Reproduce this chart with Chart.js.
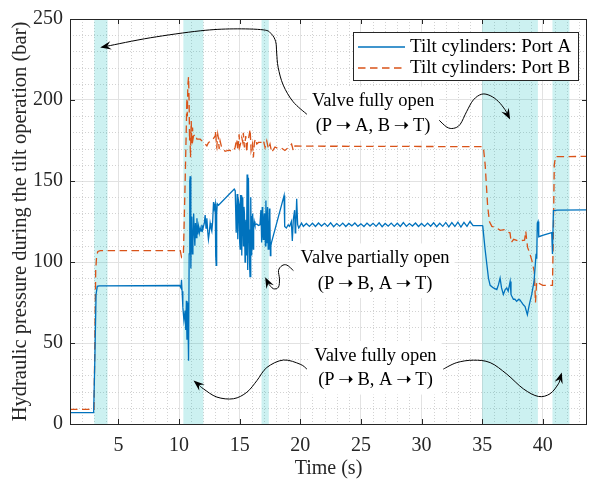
<!DOCTYPE html>
<html><head><meta charset="utf-8">
<script src="https://cdn.jsdelivr.net/npm/chart.js@4/dist/chart.umd.min.js"></script>
<style>html,body{margin:0;padding:0;background:#fff;}#wrap{width:590px;height:479px;}</style>
</head><body><div id="wrap"><canvas id="c" width="590" height="479"></canvas></div>
<script>
// ---------- data ----------
const seriesNames = ['Tilt cylinders: Port A', 'Tilt cylinders: Port B'];
const xTicks = [5, 10, 15, 20, 25, 30, 35, 40];
const yTicks = [0, 50, 100, 150, 200, 250];

const timeA = [
  1, 2.95, 3.05, 3.15, 3.25, 3.4, 10.05, 10.15, 10.2, 10.25,
  10.31, 10.4, 10.5, 10.55, 10.6, 10.65, 10.7, 10.74, 10.78, 10.83,
  10.88, 10.92, 10.97, 11.02, 11.05, 11.1, 11.14, 11.2, 11.25, 11.3,
  11.35, 11.41, 11.47, 11.53, 11.6, 11.67, 11.74, 11.81, 11.88, 11.95,
  12.01, 12.08, 12.15, 12.22, 12.29, 12.36, 12.42, 12.49, 12.56, 12.63,
  12.7, 12.77, 12.84, 12.9, 12.98, 13.02, 13.06, 13.1, 13.15, 13.25,
  14.55, 14.63, 14.71, 14.79, 14.84, 14.9, 14.95, 15.0, 15.04, 15.08,
  15.12, 15.17, 15.21, 15.25, 15.31, 15.35, 15.39, 15.44, 15.48, 15.52,
  15.56, 15.61, 15.66, 15.72, 15.77, 15.81, 15.85, 15.91, 15.95, 15.99,
  16.03, 16.07, 16.11, 16.15, 16.2, 16.26, 16.4, 16.55, 16.67, 16.75,
  16.81, 16.86, 16.9, 16.94, 17.0, 17.03, 17.08, 17.12, 17.16, 17.21,
  17.25, 17.3, 17.35, 17.41, 17.45, 17.49, 17.53, 17.57, 17.62, 18.66,
  18.71, 18.85, 19.0, 19.12, 19.26, 19.34, 19.42, 19.53, 19.58, 19.62,
  19.7, 19.78, 19.87, 19.95, 20.1, 20.25, 20.5, 20.75, 21.0, 21.25,
  21.5, 21.75, 22, 22.25, 22.5, 22.75, 23, 23.25, 23.5, 23.75,
  24, 24.25, 24.5, 24.75, 25, 25.25, 25.5, 25.75, 26, 26.25,
  26.5, 26.75, 27, 27.25, 27.5, 27.75, 28, 28.25, 28.5, 28.75,
  29, 29.25, 29.5, 29.75, 30, 30.25, 30.5, 30.75, 31, 31.25,
  31.5, 31.75, 32, 32.25, 32.5, 32.75, 33, 33.25, 33.5, 33.75,
  34, 34.25, 35.0, 35.05, 35.24, 35.52, 35.66, 35.93, 36.21, 36.35,
  36.48, 36.6, 36.75, 36.9, 37.03, 37.15, 37.31, 37.38, 37.44, 37.58,
  37.7, 37.85, 38.0, 38.13, 38.26, 38.4, 38.54, 38.73, 38.9, 39.09,
  39.28, 39.45, 39.5, 39.55, 39.61, 39.67, 40.05, 40.74, 40.8, 40.88,
  41.2, 43.7
];
const pressureA = [
  7, 7, 40, 80, 85, 85.3, 85.5, 84, 89, 82,
  72, 64, 70, 58, 76, 52, 75, 60, 39, 105,
  150, 153, 96, 128, 122, 105, 112, 130, 119, 110,
  124, 115, 127, 117, 122, 118, 121, 119, 123, 120,
  122, 124, 129, 121, 127, 119, 114, 118, 124, 121,
  119, 125, 137, 133, 136, 104, 98, 130, 136, 135,
  145, 144, 118, 142, 114, 138, 136, 112, 108, 141,
  141, 104, 130, 140, 110, 134, 130, 100, 122, 126,
  104, 154, 95, 152, 120, 100, 91, 140, 112, 104,
  128, 130, 108, 120, 125, 123, 123.5, 122.5, 123, 132,
  112, 134, 118, 114, 127, 130, 124, 110, 138, 112,
  126, 134, 108, 120, 133, 128, 104, 110, 112, 141,
  122, 121, 123, 122, 125, 113, 126, 132, 118, 120,
  139, 123, 121, 122, 124, 122, 123.8, 122, 123.9, 121.9,
  124.1, 122.2, 123.9, 122, 124.2, 121.8, 123.7, 122.1, 124, 121.9,
  123.8, 122.3, 124.1, 122, 123.6, 121.9, 124, 122.2, 123.9, 122,
  124.2, 121.8, 123.8, 122.1, 124, 122, 123.9, 121.9, 124.3, 122,
  123.7, 122.2, 124.1, 121.9, 123.8, 122, 124, 122.1, 124.2, 121.8,
  123.9, 122, 124.4, 121.7, 124.3, 121.9, 124.6, 121.6, 124.5, 122,
  125, 122.4, 122.5, 122.3, 108, 90, 85.6, 84, 83, 86,
  90, 84, 80, 83, 84, 82, 88, 80, 79, 77,
  77, 75.7, 77, 76.5, 75, 73.6, 72.5, 67.5, 74, 80,
  88, 105, 102, 124, 125, 115.6, 116.6, 118.2, 105, 131.8,
  132, 132.2
];

const timeB = [
  1, 2.98, 3.05, 3.12, 3.2, 3.3, 3.5, 10.1, 10.2, 10.3,
  10.36, 10.5, 10.6, 10.64, 10.68, 10.72, 10.78, 10.83, 10.86, 10.89,
  10.94, 10.97, 11.0, 11.05, 11.11, 11.15, 11.19, 11.33, 11.47, 11.74,
  12.02, 12.29, 12.43, 12.7, 12.98, 13.03, 13.07, 13.11, 13.19, 13.25,
  13.3, 13.38, 13.5, 13.8, 14.1, 14.48, 14.62, 14.7, 14.76, 14.84,
  14.95, 15.0, 15.06, 15.17, 15.25, 15.3, 15.39, 15.5, 15.58, 15.65,
  15.72, 15.86, 15.94, 16.05, 16.13, 16.21, 16.3, 16.41, 16.54, 16.82,
  16.95, 17.09, 17.23, 17.37, 17.5, 17.64, 17.91, 18.2, 18.46, 18.73,
  19.01, 19.28, 19.42, 19.56, 20.38, 35.0, 35.1, 35.25, 35.45, 35.6,
  35.8, 36.2, 36.5, 36.8, 37.1, 37.3, 37.4, 37.6, 38.0, 38.5,
  38.6, 38.68, 38.75, 38.9, 39.1, 39.3, 39.4, 39.5, 39.65, 40.0,
  40.8, 40.88, 40.95, 41.05, 43.7
];
const pressureB = [
  9, 9, 50, 95, 104, 106.5, 107, 107, 103, 104,
  106, 150, 185, 201, 190, 209, 214.3, 197, 175, 181,
  164.6, 178, 187, 172.8, 183, 176, 177.8, 178.8, 175.8, 175.8,
  173.8, 171.7, 173.8, 174.8, 177.8, 180.9, 172, 170.7, 178.8, 176,
  169.7, 174.8, 171, 168.3, 169, 168.3, 170.7, 174, 175.8, 168.8,
  178.8, 171, 172.8, 176.8, 174, 179.8, 170.7, 177.8, 167.7, 175,
  175.8, 181.9, 168.8, 172.8, 164.6, 173.8, 176, 172.8, 173.8, 173.8,
  175.2, 170.7, 174.8, 169.8, 172.8, 167.7, 171, 170, 170.2, 168.8,
  170.7, 172.8, 168.8, 171.7, 171.5, 171.2, 171, 160, 135, 125,
  122, 121, 119.5, 120, 118.5, 118, 112, 114, 113, 113.5,
  119, 113, 109, 106, 101, 94, 75, 88, 87, 85.6,
  85.6, 120, 160, 165, 165.2
];

// shaded valve-opening intervals (s)
const bandStart = [3.0, 10.35, 16.8, 35.0, 40.8];
const bandEnd   = [4.1, 12.0, 17.4, 39.6, 42.2];

// annotation texts (two lines each), anchor in data units
const noteLine1 = ['Valve fully open', 'Valve partially open', 'Valve fully open'];
const noteLine2 = ['(P\u2009\u279D\u2009A, B\u2009\u279D\u2009T)', '(P\u2009\u279D\u2009B, A\u2009\u279D\u2009T)', '(P\u2009\u279D\u2009B, A\u2009\u279D\u2009T)'];
const noteX  = [26.0, 26.17, 26.2];
const noteY1 = [199.0, 102.2, 42.0];
const noteY2 = [183.6, 86.4, 26.8];

// curved annotation arrows, control points in data units (t, bar); last point = arrow tip
const arrowPaths = [
  [[20.57,191],[19.41,198.9],[18.59,209.2],[18.17,220.2],[18.05,229],[17.97,236],[17.6,240.9],[16.94,243.3],[14.46,243.9],[11.74,242.7],[7.62,238.4],[3.49,232.4]],
  [[31.39,188],[32.08,183.3],[32.63,182.5],[33.18,184.9],[33.73,193],[34.28,200.1],[34.97,203.6],[35.66,202.7],[36.34,199.1],[36.89,194],[37.31,188]],
  [[19.43,94.7],[18.89,98.1],[18.48,97.7],[18.2,94.7],[18.28,89.6],[18.2,84.5],[17.78,83.5],[17.37,86.6],[17.1,90.6]],
  [[20.54,33.9],[19.99,36.9],[18.61,39.5],[17.24,34.9],[16.42,26.8],[15.59,19.6],[14.49,15.6],[13.12,16.6],[12.01,21.7],[11.19,26.8]],
  [[31.8,33.9],[32.91,37.9],[34.28,39.4],[35.66,37.9],[37.03,30.8],[38.4,21.7],[39.64,17],[40.61,18.7],[41.29,24.8],[41.57,31.8]]
];

// ---------- styling ----------
const SERIF = "'Liberation Serif', 'Times New Roman', 'DejaVu Serif', 'DejaVu Sans', serif";
const BLUE = '#0072BD', ORANGE = '#D95319', AXIS = '#262626';
const DASH = [7.5, 4.5];

const toXY = (ts, vs) => ts.map((t, i) => ({x: t, y: vs[i]}));

const extras = {
  id: 'extras',
  beforeDatasetsDraw(chart) {
    const {ctx, chartArea: a, scales: {x, y}} = chart;
    ctx.save();
    // minor dotted grid
    ctx.strokeStyle = '#d2d2d2'; ctx.lineWidth = 1; ctx.setLineDash([1, 2]);
    ctx.beginPath();
    for (let t = Math.ceil(x.min); t <= x.max; t++) {
      if (t % 5 === 0) continue;
      const px = Math.round(x.getPixelForValue(t)) + 0.5;
      ctx.moveTo(px, a.top); ctx.lineTo(px, a.bottom);
    }
    for (let v = 10; v < y.max; v += 10) {
      if (v % 50 === 0) continue;
      const py = Math.round(y.getPixelForValue(v)) + 0.5;
      ctx.moveTo(a.left, py); ctx.lineTo(a.right, py);
    }
    ctx.stroke();
    ctx.setLineDash([]);
    // shaded bands
    ctx.fillStyle = 'rgba(0,185,185,0.2)';
    bandStart.forEach((s, i) => {
      const x0 = x.getPixelForValue(s), x1 = x.getPixelForValue(bandEnd[i]);
      ctx.fillRect(x0, a.top, x1 - x0, a.bottom - a.top);
    });
    ctx.restore();
  },
  afterDatasetsDraw(chart) {
    const {ctx, scales: {x, y}} = chart;
    ctx.save();
    // arrows
    ctx.strokeStyle = '#000'; ctx.fillStyle = '#000'; ctx.lineWidth = 1;
    arrowPaths.forEach(path => {
      const p = path.map(([t, v]) => [x.getPixelForValue(t), y.getPixelForValue(v)]);
      const n = p.length;
      const last = p[n - 1], prev = p[n - 2];
      const ang = Math.atan2(last[1] - prev[1], last[0] - prev[0]);
      const L = 11, W = 4.2, N = 7;
      const end = [last[0] - N * Math.cos(ang), last[1] - N * Math.sin(ang)];
      const pts = p.slice(0, n - 1).concat([end]);
      ctx.beginPath();
      ctx.moveTo(pts[0][0], pts[0][1]);
      for (let i = 0; i < pts.length - 1; i++) {
        const p0 = pts[i - 1] || pts[i], p1 = pts[i], p2 = pts[i + 1], p3 = pts[i + 2] || p2;
        ctx.bezierCurveTo(p1[0] + (p2[0] - p0[0]) / 6, p1[1] + (p2[1] - p0[1]) / 6,
                          p2[0] - (p3[0] - p1[0]) / 6, p2[1] - (p3[1] - p1[1]) / 6, p2[0], p2[1]);
      }
      ctx.stroke();
      const c = Math.cos(ang), s = Math.sin(ang);
      ctx.beginPath();
      ctx.moveTo(last[0], last[1]);
      ctx.lineTo(last[0] - L * c + W * s, last[1] - L * s - W * c);
      ctx.lineTo(last[0] - N * c, last[1] - N * s);
      ctx.lineTo(last[0] - L * c - W * s, last[1] - L * s + W * c);
      ctx.closePath(); ctx.fill();
    });
    // text boxes
    ctx.font = '18.5px ' + SERIF;
    ctx.textAlign = 'center'; ctx.textBaseline = 'middle';
    noteLine1.forEach((t1, i) => {
      const cx = x.getPixelForValue(noteX[i]);
      const y1 = y.getPixelForValue(noteY1[i]), y2 = y.getPixelForValue(noteY2[i]);
      const w = Math.max(ctx.measureText(t1).width, ctx.measureText(noteLine2[i]).width) + 10;
      ctx.fillStyle = '#fff';
      ctx.fillRect(cx - w / 2, y1 - 15, w, y2 - y1 + 29);
      ctx.fillStyle = '#000';
      ctx.fillText(t1, cx, y1);
      ctx.fillText(noteLine2[i], cx, y2);
    });
    ctx.restore();
  },
  afterDraw(chart) {
    const {ctx, chartArea: a, scales: {x, y}} = chart;
    ctx.save();
    // axes box with inward ticks
    ctx.strokeStyle = AXIS; ctx.lineWidth = 1;
    ctx.strokeRect(Math.round(a.left) + 0.5, Math.round(a.top) + 0.5, Math.round(a.right - a.left) - 1, Math.round(a.bottom - a.top));
    ctx.beginPath();
    xTicks.forEach(t => {
      const px = Math.round(x.getPixelForValue(t)) + 0.5;
      ctx.moveTo(px, a.bottom); ctx.lineTo(px, a.bottom - 5);
      ctx.moveTo(px, a.top); ctx.lineTo(px, a.top + 5);
    });
    yTicks.forEach(v => {
      const py = Math.round(y.getPixelForValue(v)) + 0.5;
      ctx.moveTo(a.left, py); ctx.lineTo(a.left + 5, py);
      ctx.moveTo(a.right, py); ctx.lineTo(a.right - 5, py);
    });
    ctx.stroke();
    // legend
    const lx = a.right - 234, ly = a.top + 13, lw = 225, lh = 48;
    ctx.fillStyle = '#fff';
    ctx.fillRect(lx, ly, lw, lh);
    ctx.strokeStyle = AXIS;
    ctx.strokeRect(Math.round(lx) + 0.5, Math.round(ly) + 0.5, lw, lh);
    ctx.font = '19px ' + SERIF; ctx.textAlign = 'left'; ctx.textBaseline = 'middle';
    chart.data.datasets.forEach((ds, i) => {
      const yy = ly + 15 + i * 21;
      ctx.strokeStyle = ds.borderColor; ctx.lineWidth = ds.borderWidth;
      ctx.setLineDash(ds.borderDash || []);
      ctx.beginPath(); ctx.moveTo(lx + 5, yy); ctx.lineTo(lx + 52, yy); ctx.stroke();
      ctx.setLineDash([]);
      ctx.fillStyle = '#000';
      ctx.fillText(ds.label, lx + 57, yy);
    });
    ctx.restore();
  }
};

new Chart(document.getElementById('c'), {
  type: 'line',
  data: {
    datasets: [
      {label: seriesNames[0], data: toXY(timeA, pressureA), borderColor: BLUE, borderWidth: 1.3, pointRadius: 0, fill: false, tension: 0},
      {label: seriesNames[1], data: toXY(timeB, pressureB), borderColor: ORANGE, borderWidth: 1.3, borderDash: DASH, pointRadius: 0, fill: false, tension: 0}
    ]
  },
  options: {
    responsive: false, animation: false, devicePixelRatio: 1,
    layout: {padding: {top: 13, right: 3, left: 0, bottom: 0}},
    plugins: {legend: {display: false}, tooltip: {enabled: false}},
    scales: {
      x: {
        type: 'linear', min: 1, max: 43.65,
        afterFit(s) { s.height = 55; },
        afterBuildTicks(s) { s.ticks = xTicks.map(v => ({value: v})); },
        ticks: {font: {family: SERIF, size: 20}, color: AXIS, padding: 10, maxRotation: 0, autoSkip: false, includeBounds: false},
        grid: {color: '#e2e2e2', drawTicks: false, lineWidth: 1},
        border: {display: false},
        title: {display: true, text: 'Time (s)', font: {family: SERIF, size: 20}, color: AXIS, padding: {top: 0, bottom: -2}}
      },
      y: {
        type: 'linear', min: 0, max: 250,
        afterFit(s) { s.width = 70; },
        afterBuildTicks(s) { s.ticks = yTicks.map(v => ({value: v})); },
        ticks: {font: {family: SERIF, size: 20}, color: AXIS, padding: 7, includeBounds: false},
        grid: {color: '#e2e2e2', drawTicks: false, lineWidth: 1},
        border: {display: false},
        title: {display: true, text: 'Hydraulic pressure during the tilt operation (bar)', font: {family: SERIF, size: 20.5}, color: AXIS, padding: {top: 8, bottom: 0}}
      }
    }
  },
  plugins: [extras]
});
</script></body></html>
